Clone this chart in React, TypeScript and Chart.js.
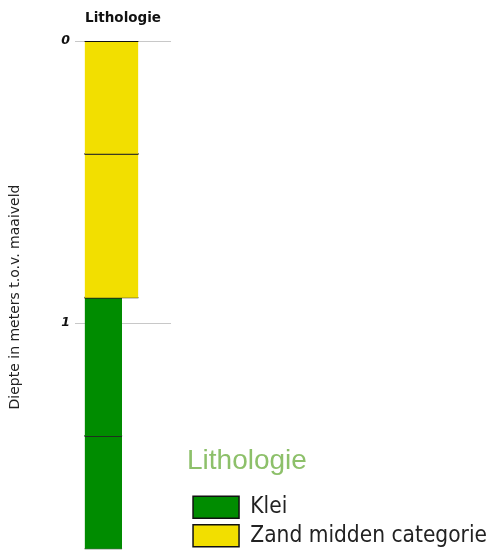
import React, { useEffect, useRef } from "react";
import { Chart, registerables } from "chart.js";

Chart.register(...registerables);

// Layers of the boring (depth in m below surface)
const layerTop = [0, 0.4, 0.91, 1.4];
const layerBottom = [0.4, 0.91, 1.4, 1.8];
const layerSoil = ["Zand midden categorie", "Zand midden categorie", "Klei", "Klei"];

// Soil classes (legend order), colours and relative column width (grain size)
const soilClasses = ["Klei", "Zand midden categorie"];
const soilColors = ["#008c00", "#f2df00"];
const soilWidth = [0.39, 0.56];

const yTicks = [0, 1];
const depthMax = 1.815;
const columnLeft = 0.1;

export default function App() {
  const ref = useRef<HTMLCanvasElement | null>(null);

  useEffect(() => {
    if (!ref.current) return;
    const datasets: any[] = [];
    layerTop.forEach((top, i) => {
      const k = soilClasses.indexOf(layerSoil[i]);
      const right = columnLeft + soilWidth[k];
      datasets.push({
        label: layerSoil[i],
        data: [
          { x: columnLeft, y: top },
          { x: right, y: top },
        ],
        borderColor: "#111",
        borderWidth: 1.8,
        pointRadius: 0,
        backgroundColor: soilColors[k],
        fill: "+1",
      });
      datasets.push({
        label: layerSoil[i] + " onder",
        data: [
          { x: columnLeft, y: layerBottom[i] },
          { x: right, y: layerBottom[i] },
        ],
        borderColor: "#333",
        borderWidth: 1.2,
        pointRadius: 0,
        fill: false,
      });
    });

    const noPad = (s: any) => {
      s.paddingTop = 0;
      s.paddingBottom = 0;
    };

    const chart = new Chart(ref.current, {
      type: "line",
      data: { datasets },
      options: {
        animation: false,
        responsive: true,
        maintainAspectRatio: false,
        layout: { padding: { left: 0, right: 0, top: 0, bottom: 0 } },
        plugins: {
          tooltip: { enabled: false },
          legend: {
            display: true,
            position: "right",
            align: "end",
            maxWidth: 400,
            onClick: () => {},
            title: {
              display: true,
              text: "Lithologie",
              color: "#8dc06a",
              position: "start",
              padding: 9,
              font: { family: "'Liberation Sans', Arial, sans-serif", size: 28 },
            },
            labels: {
              boxWidth: 46,
              boxHeight: 22,
              padding: 6,
              color: "#222",
              font: { family: "'DejaVu Sans Condensed', 'DejaVu Sans', sans-serif", size: 22.5 },
              generateLabels: () =>
                soilClasses.map((s, i) => ({
                  text: s,
                  fillStyle: soilColors[i],
                  strokeStyle: "#111",
                  lineWidth: 1.5,
                  hidden: false,
                  datasetIndex: i,
                  fontColor: "#222",
                })),
            },
          },
        },
        scales: {
          x: {
            type: "linear",
            position: "top",
            min: 0,
            max: 1,
            grid: { display: false },
            border: { display: false },
            ticks: { display: false },
            title: {
              display: true,
              text: "Lithologie",
              color: "#111",
              padding: { top: 10, bottom: 0 },
              font: { family: "'DejaVu Sans', sans-serif", size: 13.5, weight: "bold" },
            },
            afterFit: (s: any) => {
              s.height = 41;
              s.paddingLeft = 0;
              s.paddingRight = 0;
            },
          },
          y: {
            type: "linear",
            position: "left",
            reverse: true,
            min: 0,
            max: depthMax,
            afterBuildTicks: (s: any) => {
              s.ticks = yTicks.map((v) => ({ value: v }));
            },
            grid: { color: "#c8c8c8", lineWidth: 1, drawTicks: false },
            border: { display: false },
            ticks: {
              padding: 5,
              color: "#111",
              font: { family: "'DejaVu Sans', sans-serif", size: 12.5, weight: "bold", style: "italic" },
            },
            title: {
              display: true,
              text: "Diepte in meters t.o.v. maaiveld",
              color: "#222",
              padding: { top: 7, bottom: 0 },
              font: { family: "'DejaVu Sans', sans-serif", size: 14 },
            },
            afterFit: (s: any) => {
              s.width = 75;
              noPad(s);
            },
          },
          gap: {
            type: "linear",
            position: "right",
            display: true,
            grid: { display: false },
            border: { display: false },
            ticks: { display: false },
            afterFit: (s: any) => {
              s.width = 16;
              noPad(s);
            },
          },
        },
      },
    });
    return () => chart.destroy();
  }, []);

  return (
    <div style={{ position: "absolute", left: 0, top: 0, width: 497, height: 553, background: "#fff" }}>
      <canvas ref={ref} />
    </div>
  );
}
